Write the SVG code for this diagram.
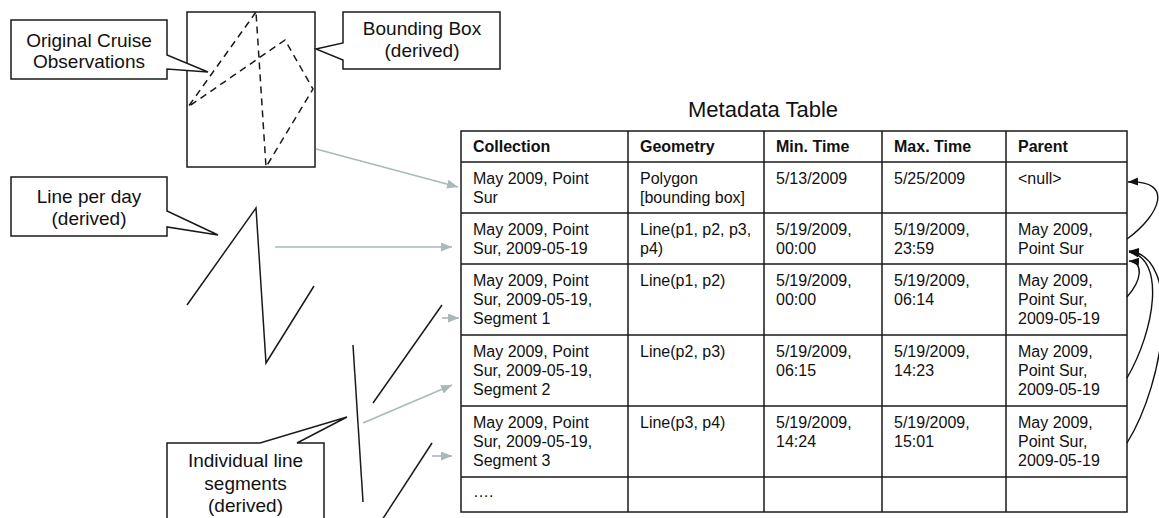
<svg xmlns="http://www.w3.org/2000/svg" width="1159" height="518" viewBox="0 0 1159 518">
<style>
  .box{fill:#fff;stroke:#1a1a1a;stroke-width:1.5}
  .callout{font-family:"Liberation Sans",Arial,sans-serif;font-size:19px;fill:#111;text-anchor:middle}
  .cell{font-family:"Liberation Sans",Arial,sans-serif;font-size:16px;fill:#111}
  .hdr{font-family:"Liberation Sans",Arial,sans-serif;font-size:16px;font-weight:bold;fill:#111}
  .title{font-family:"Liberation Sans",Arial,sans-serif;font-size:22px;fill:#111}
  .grid{stroke:#1a1a1a;stroke-width:1.5;fill:none}
  .track{fill:none;stroke:#1a1a1a;stroke-width:1.5}
  .dash{fill:none;stroke:#1a1a1a;stroke-width:1.5;stroke-dasharray:7,5}
  .gray{fill:none;stroke:#a9b9ba;stroke-width:1.6}
  .curve{fill:none;stroke:#111;stroke-width:1.4}
</style>
<defs>
  <marker id="ag" markerUnits="userSpaceOnUse" markerWidth="12" markerHeight="10" refX="11" refY="4.5" orient="auto">
    <path d="M0,0 L11,4.5 L0,9 z" fill="#a9b9ba"/>
  </marker>
  <marker id="ab" markerUnits="userSpaceOnUse" markerWidth="12" markerHeight="10" refX="10" refY="4" orient="auto">
    <path d="M0,0 L10,4 L0,8 z" fill="#111"/>
  </marker>
</defs>

<g id="bounding-box">
  <rect x="187" y="12" width="128" height="155" class="box"/>
  <path d="M256,12 L188,107 L285,40 L313,89 L266,167 Z" class="dash"/>
</g>

<g id="callout-original">
  <path d="M11,20 H167 V55 L208,72 L167,69 V79 H11 Z" class="box"/>
  <text class="callout" x="89" y="47">Original Cruise</text>
  <text class="callout" x="89" y="68">Observations</text>
</g>

<g id="callout-bbox">
  <path d="M343,12 H500 V69 H343 V60 L316,49 L343,43 Z" class="box"/>
  <text class="callout" x="422" y="35">Bounding Box</text>
  <text class="callout" x="422" y="57">(derived)</text>
</g>

<g id="line-per-day">
  <polyline points="187,305 256,208 266,363 314,286" class="track"/>
</g>

<g id="callout-lineperday">
  <path d="M11,177 H167 V211 L218,235 L167,227 V236 H11 Z" class="box"/>
  <text class="callout" x="89" y="203">Line per day</text>
  <text class="callout" x="89" y="225">(derived)</text>
</g>

<g id="segments">
  <line x1="442" y1="305" x2="373" y2="403" class="track"/>
  <line x1="353" y1="345" x2="363" y2="502" class="track"/>
  <line x1="432" y1="443" x2="382" y2="520" class="track"/>
</g>

<g id="callout-segments">
  <path d="M167,443 H260 L347,417 L297,443 H324 V525 H167 Z" class="box"/>
  <text class="callout" x="245.5" y="467">Individual line</text>
  <text class="callout" x="245.5" y="489.5">segments</text>
  <text class="callout" x="245.5" y="512">(derived)</text>
</g>

<g id="metadata-table">
  <text class="title" x="688" y="117">Metadata Table</text>
  <rect x="461" y="131" width="666" height="381" class="grid"/>
  <path class="grid" d="M461,162 H1127 M461,213 H1127 M461,264 H1127 M461,335 H1127 M461,406 H1127 M461,477 H1127 M628,131 V512 M764,131 V512 M882,131 V512 M1006,131 V512"/>
  <g id="header">
    <text class="hdr" x="473" y="152">Collection</text>
    <text class="hdr" x="640" y="152">Geometry</text>
    <text class="hdr" x="776" y="152">Min. Time</text>
    <text class="hdr" x="894" y="152">Max. Time</text>
    <text class="hdr" x="1018" y="152">Parent</text>
  </g>
  <g id="row1">
    <text class="cell" x="473" y="184">May 2009, Point</text>
    <text class="cell" x="473" y="203">Sur</text>
    <text class="cell" x="640" y="184">Polygon</text>
    <text class="cell" x="640" y="203">[bounding box]</text>
    <text class="cell" x="776" y="184">5/13/2009</text>
    <text class="cell" x="894" y="184">5/25/2009</text>
    <text class="cell" x="1018" y="184">&lt;null&gt;</text>
  </g>
  <g id="row2">
    <text class="cell" x="473" y="235">May 2009, Point</text>
    <text class="cell" x="473" y="254">Sur, 2009-05-19</text>
    <text class="cell" x="640" y="235">Line(p1, p2, p3,</text>
    <text class="cell" x="640" y="254">p4)</text>
    <text class="cell" x="776" y="235">5/19/2009,</text>
    <text class="cell" x="776" y="254">00:00</text>
    <text class="cell" x="894" y="235">5/19/2009,</text>
    <text class="cell" x="894" y="254">23:59</text>
    <text class="cell" x="1018" y="235">May 2009,</text>
    <text class="cell" x="1018" y="254">Point Sur</text>
  </g>
  <g id="row3">
    <text class="cell" x="473" y="286">May 2009, Point</text>
    <text class="cell" x="473" y="305">Sur, 2009-05-19,</text>
    <text class="cell" x="473" y="324">Segment 1</text>
    <text class="cell" x="640" y="286">Line(p1, p2)</text>
    <text class="cell" x="776" y="286">5/19/2009,</text>
    <text class="cell" x="776" y="305">00:00</text>
    <text class="cell" x="894" y="286">5/19/2009,</text>
    <text class="cell" x="894" y="305">06:14</text>
    <text class="cell" x="1018" y="286">May 2009,</text>
    <text class="cell" x="1018" y="305">Point Sur,</text>
    <text class="cell" x="1018" y="324">2009-05-19</text>
  </g>
  <g id="row4">
    <text class="cell" x="473" y="357">May 2009, Point</text>
    <text class="cell" x="473" y="376">Sur, 2009-05-19,</text>
    <text class="cell" x="473" y="395">Segment 2</text>
    <text class="cell" x="640" y="357">Line(p2, p3)</text>
    <text class="cell" x="776" y="357">5/19/2009,</text>
    <text class="cell" x="776" y="376">06:15</text>
    <text class="cell" x="894" y="357">5/19/2009,</text>
    <text class="cell" x="894" y="376">14:23</text>
    <text class="cell" x="1018" y="357">May 2009,</text>
    <text class="cell" x="1018" y="376">Point Sur,</text>
    <text class="cell" x="1018" y="395">2009-05-19</text>
  </g>
  <g id="row5">
    <text class="cell" x="473" y="428">May 2009, Point</text>
    <text class="cell" x="473" y="447">Sur, 2009-05-19,</text>
    <text class="cell" x="473" y="466">Segment 3</text>
    <text class="cell" x="640" y="428">Line(p3, p4)</text>
    <text class="cell" x="776" y="428">5/19/2009,</text>
    <text class="cell" x="776" y="447">14:24</text>
    <text class="cell" x="894" y="428">5/19/2009,</text>
    <text class="cell" x="894" y="447">15:01</text>
    <text class="cell" x="1018" y="428">May 2009,</text>
    <text class="cell" x="1018" y="447">Point Sur,</text>
    <text class="cell" x="1018" y="466">2009-05-19</text>
  </g>
  <g id="row6">
    <text class="cell" x="473" y="497">….</text>
  </g>
</g>

<g id="connectors">
  <line x1="316" y1="149" x2="458" y2="187" class="gray" marker-end="url(#ag)"/>
  <line x1="275" y1="247" x2="452" y2="247" class="gray" marker-end="url(#ag)"/>
  <line x1="442" y1="318" x2="459" y2="318" class="gray" marker-end="url(#ag)"/>
  <line x1="363" y1="423" x2="452" y2="385" class="gray" marker-end="url(#ag)"/>
  <line x1="432" y1="456" x2="452" y2="456" class="gray" marker-end="url(#ag)"/>
  <path d="M1127,239 C1160,215 1175,180 1128,182" class="curve" marker-end="url(#ab)"/>
  <path d="M1127,297 C1142,280 1144,262 1129,261" class="curve" marker-end="url(#ab)"/>
  <path d="M1127,378 C1155,330 1166,258 1129,252" class="curve" marker-end="url(#ab)"/>
  <path d="M1127,443 C1166,380 1182,256 1129,251" class="curve" marker-end="url(#ab)"/>
</g>
</svg>
